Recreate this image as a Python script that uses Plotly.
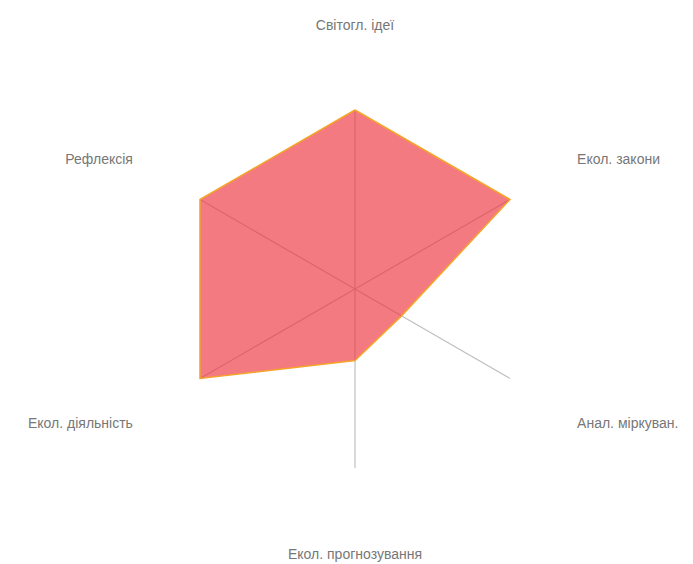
import plotly.graph_objects as go

categories = ["Світогл. ідеї", "Екол. закони", "Анал. міркуван.",
              "Екол. прогнозування", "Екол. діяльність", "Рефлексія"]
values = [100, 100, 30, 40, 100, 100]
scale_max = 100

W, H = 685, 556            # figure size (page adds an 8px body margin)
cx, cy = 347, 281          # centre in figure px (from top-left)
r_data_px = 179            # px for scale_max
r_range = 143              # radial range max (labels sit at the outer edge)
R = r_data_px * r_range / scale_max

fig = go.Figure()

# spokes
for c in categories:
    fig.add_trace(go.Scatterpolar(
        r=[0, scale_max], theta=[c, c], mode="lines",
        line=dict(color="rgb(192,192,192)", width=1.2),
        hoverinfo="skip", showlegend=False))

# data polygon
fig.add_trace(go.Scatterpolar(
    r=values + values[:1], theta=categories + categories[:1],
    mode="lines", fill="toself",
    fillcolor="rgba(235,50,60,0.65)",
    line=dict(color="#F5A32A", width=1.5),
    showlegend=False))

fig.update_layout(
    width=W, height=H,
    margin=dict(l=0, r=0, t=0, b=0),
    paper_bgcolor="white",
    font=dict(family="Liberation Sans, Arial, sans-serif", size=14, color="#777777"),
    polar=dict(
        domain=dict(x=[(cx - R) / W, (cx + R) / W],
                    y=[(H - cy - R) / H, (H - cy + R) / H]),
        bgcolor="rgba(0,0,0,0)",
        radialaxis=dict(visible=False, range=[0, r_range]),
        angularaxis=dict(rotation=90, direction="clockwise",
                         showgrid=False, showline=False, ticks="",
                         tickfont=dict(size=14, color="#777777"),
                         categoryorder="array", categoryarray=categories),
    ),
)

fig.write_html("out.html")
